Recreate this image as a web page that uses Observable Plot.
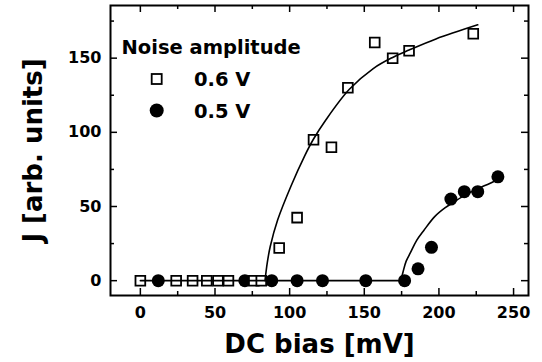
<!DOCTYPE html>
<html><head><meta charset="utf-8">
<script src="https://cdn.jsdelivr.net/npm/d3@7"></script>
<script src="https://cdn.jsdelivr.net/npm/@observablehq/plot@0.6"></script>
<style>body{margin:0;background:#fff}#chart{position:relative;width:542px;height:362px}</style>
</head><body><div id="chart"></div><script>
// Data: noise amplitude 0.6 V (open squares)
const v06x = [0, 24, 35, 44.5, 52, 59, 76, 81, 93, 105, 116, 128, 139, 157, 169, 180, 223];
const v06y = [0, 0, 0, 0, 0, 0, 0, 0, 22, 42.5, 95, 90, 130, 160.5, 150, 155, 166.5];
// Data: noise amplitude 0.5 V (filled circles)
const v05x = [12, 70, 88, 105, 122, 151, 177, 186, 195, 208, 217, 226, 239.5];
const v05y = [0, 0, 0, 0, 0, 0, 0, 8, 22.5, 55, 60, 60, 70];
// Fit curves
const fit06x = [83.5, 85, 87, 92, 101, 110, 116, 124, 140, 156, 169, 180, 198, 226];
const fit06y = [0, 12, 23, 41, 64, 84, 95.5, 108, 129, 143, 150.5, 155.5, 163, 172.5];
const fit05x = [174.5, 176, 178, 181, 185, 190, 197, 204, 210, 218, 226, 234, 238];
const fit05y = [0, 6, 13, 19, 27, 34, 43, 49, 53, 58, 62, 65.5, 67.5];
const baseX = [0, 176];
const baseY = [0, 0];
// Ticks
const xMajor = [0, 50, 100, 150, 200, 250];
const xMinor = [25, 75, 125, 175, 225];
const yMajor = [0, 50, 100, 150];
const yMinor = [25, 75, 125, 175];
const legendTitle = "Noise amplitude";
const legendLabels = ["0.6 V", "0.5 V"];

const zip = (xs, ys) => xs.map((x, i) => ({x, y: ys[i]}));
const p06 = zip(v06x, v06y), p05 = zip(v05x, v05y);
const f06 = zip(fit06x, fit06y), f05 = zip(fit05x, fit05y), base = zip(baseX, baseY);

const W = 542, H = 362, mL = 110, mR = 14, mT = 5, mB = 67;
const fw = W - mL - mR, fh = H - mT - mB;

const chart = Plot.plot({
  width: W, height: H,
  marginLeft: mL, marginRight: mR, marginTop: mT, marginBottom: mB,
  x: {domain: [-20, 260]},
  y: {domain: [-10, 185.5]},
  style: {fontFamily: "DejaVu Sans", fontWeight: "bold", fontSize: "16px", background: "white", color: "black"},
  marks: [
    Plot.tickX(xMajor, {x: d => d, insetTop: fh - 7, strokeWidth: 1.5}),
    Plot.tickX(xMajor, {x: d => d, insetBottom: fh - 7, strokeWidth: 1.5}),
    Plot.tickX(xMinor, {x: d => d, insetTop: fh - 4, strokeWidth: 1.5}),
    Plot.tickX(xMinor, {x: d => d, insetBottom: fh - 4, strokeWidth: 1.5}),
    Plot.tickY(yMajor, {y: d => d, insetRight: fw - 7, strokeWidth: 1.5}),
    Plot.tickY(yMajor, {y: d => d, insetLeft: fw - 7, strokeWidth: 1.5}),
    Plot.tickY(yMinor, {y: d => d, insetRight: fw - 4, strokeWidth: 1.5}),
    Plot.tickY(yMinor, {y: d => d, insetLeft: fw - 4, strokeWidth: 1.5}),
    Plot.axisX(xMajor, {tickSize: 0, tickPadding: 11, label: null}),
    Plot.axisY(yMajor, {tickSize: 0, tickPadding: 9, label: null}),
    Plot.dot(p05, {x: "x", y: "y", r: 6.5, fill: "black"}),
    Plot.dot(p06, {x: "x", y: "y", symbol: "square", r: 5.5, stroke: "black", fill: "white", strokeWidth: 1.8}),
    Plot.line(base, {x: "x", y: "y", strokeWidth: 1.6}),
    Plot.line(f06, {x: "x", y: "y", curve: "catmull-rom", strokeWidth: 1.6}),
    Plot.line(f05, {x: "x", y: "y", curve: "catmull-rom", strokeWidth: 1.6}),
    Plot.frame({stroke: "black", strokeWidth: 2}),
    Plot.text(["DC bias [mV]"], {frameAnchor: "bottom", dy: 57, lineAnchor: "bottom", textAnchor: "middle", fontSize: 26}),
    Plot.text(["J [arb. units]"], {frameAnchor: "left", dx: -77, rotate: -90, textAnchor: "middle", lineAnchor: "middle", fontSize: 26})
  ]
});
document.getElementById("chart").appendChild(chart);

// Legend
const g = d3.select(chart).append("g")
  .attr("font-family", "DejaVu Sans").attr("font-weight", "bold").attr("font-size", 19.5)
  .attr("text-anchor", "start").attr("fill", "black");
g.append("text").attr("x", 121.5).attr("y", 53.5).text(legendTitle);
g.append("rect").attr("x", 151.7).attr("y", 74).attr("width", 10).attr("height", 10)
  .attr("fill", "white").attr("stroke", "black").attr("stroke-width", 1.8);
g.append("text").attr("x", 194).attr("y", 86).text(legendLabels[0]);
g.append("circle").attr("cx", 156.7).attr("cy", 110.5).attr("r", 7).attr("fill", "black");
g.append("text").attr("x", 194).attr("y", 117.5).text(legendLabels[1]);
</script></body></html>
